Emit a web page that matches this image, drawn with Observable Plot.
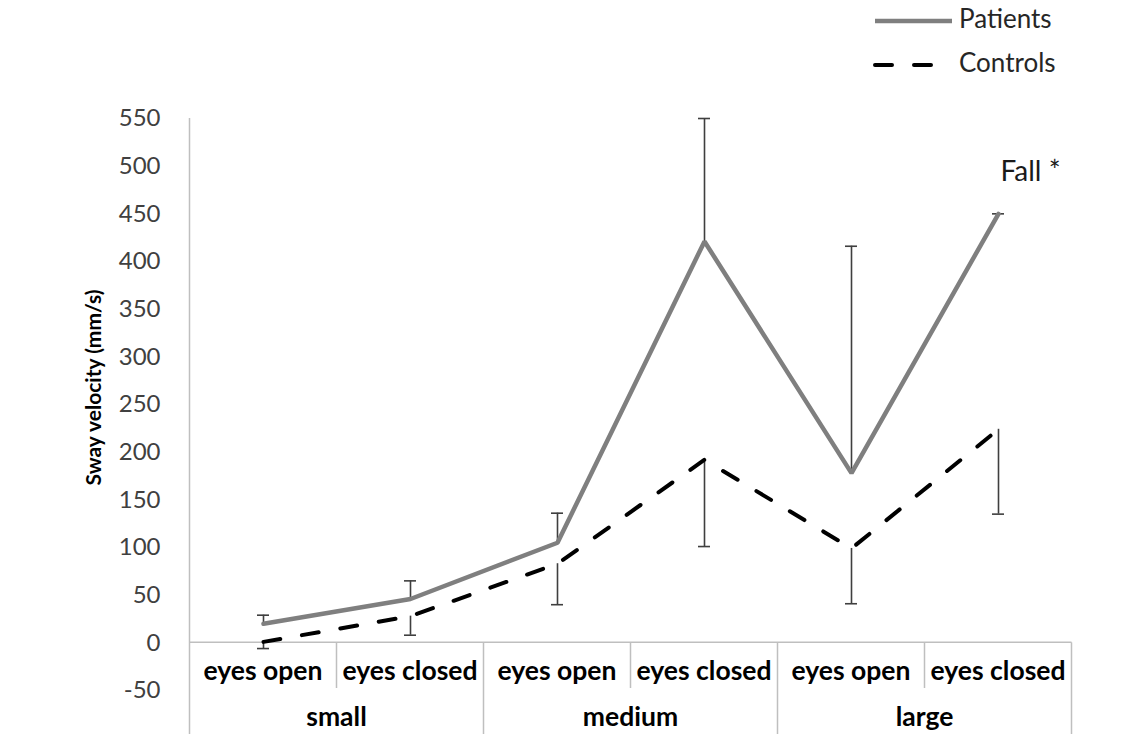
<!DOCTYPE html>
<html><head><meta charset="utf-8">
<script src="https://cdn.jsdelivr.net/npm/d3@7"></script>
<script src="https://cdn.jsdelivr.net/npm/@observablehq/plot@0.6"></script>
<style>
body{margin:0;background:#fff;}
#chart{position:relative;width:1144px;height:734px;font-family:Lato,"Open Sans",sans-serif;}
#chart svg{position:absolute;left:0;top:0;}
</style>
</head><body><div id="chart"></div>
<script>
const groups = ["small", "medium", "large"];
const conditions = ["eyes open", "eyes closed"];
const patients = [20, 46, 105, 421, 178, 450];
const patientsUpper = [29, 65, 136, 550, 416, 450];
const controls = [1, 28, 83, 192, 99, 224];
const controlsLower = [-6, 8, 40, 101, 41, 135];
const annotations = ["", "", "", "", "", "Fall *"];
const yTicks = [-50, 0, 50, 100, 150, 200, 250, 300, 350, 400, 450, 500, 550];
const seriesNames = ["Patients", "Controls"];
const yLabel = "Sway velocity (mm/s)";

const keys = groups.flatMap(g => conditions.map(c => `${g}|${c}`));
const rows = keys.map((k, i) => ({
  key: k, group: k.split("|")[0], cond: k.split("|")[1],
  p: patients[i], pu: patientsUpper[i], c: controls[i], cl: controlsLower[i], note: annotations[i]
}));

const W = 1144, H = 734;
const font = "Lato, 'Open Sans', sans-serif";
const patColor = "#7f7f7f", ctlColor = "#000000", errColor = "#3f3f3f", gridColor = "#bfbfbf";

const plot = Plot.plot({
  width: W, height: H,
  marginLeft: 187, marginRight: 71, marginTop: 118, marginBottom: 44,
  style: {fontFamily: font, background: "#fff", overflow: "visible"},
  x: {type: "point", domain: keys, padding: 0.5, axis: null},
  y: {domain: [-50, 550], axis: null},
  marks: [
    Plot.axisY({ticks: yTicks, tickSize: 0, tickPadding: 27, fontSize: 24, fill: "#404040", label: null, tickFormat: d => String(d)}),
    // patients error bars (upper)
    Plot.ruleX(rows, {x: "key", y1: "p", y2: "pu", stroke: errColor, strokeWidth: 1.6}),
    Plot.ruleY(rows, {x1: "key", x2: "key", y: "pu", insetLeft: -6, insetRight: -6, stroke: errColor, strokeWidth: 1.6}),
    // controls error bars (lower)
    Plot.ruleX(rows, {x: "key", y1: "c", y2: "cl", stroke: errColor, strokeWidth: 1.6}),
    Plot.ruleY(rows, {x1: "key", x2: "key", y: "cl", insetLeft: -6, insetRight: -6, stroke: errColor, strokeWidth: 1.6}),
    Plot.line(rows, {x: "key", y: "p", stroke: patColor, strokeWidth: 4.5, strokeLinejoin: "miter"}),
    Plot.line(rows, {x: "key", y: "c", stroke: ctlColor, strokeWidth: 4, strokeDasharray: "17,22", strokeLinecap: "round"}),
    Plot.text(rows.filter(d => d.note), {x: "key", y: "pu", text: "note", textAnchor: "start", dx: 2, dy: -42, fontSize: 28, fill: "#1a1a1a"}),
    Plot.text([yLabel], {frameAnchor: "left", text: d => d, textAnchor: "middle", rotate: -90, dx: -93, dy: -17, fontSize: 21, fontWeight: "bold", fill: "#000", letterSpacing: "-0.5px"})
  ]
});

const chart = document.getElementById("chart");
chart.appendChild(plot);

// category table drawn from the plot's own scales
const sx = plot.scale("x"), sy = plot.scale("y");
const svg = d3.select(plot);
const xs = keys.map(k => sx.apply(k));
const step = xs[1] - xs[0];
const left = xs[0] - step / 2, right = xs[xs.length - 1] + step / 2;
const y0 = sy.apply(0), yTop = sy.apply(550), yMid = sy.apply(-50);
const under = svg.insert("g", ":first-child").attr("stroke", gridColor).attr("stroke-width", 1.5).attr("fill", "none");
under.append("line").attr("x1", left).attr("x2", left).attr("y1", yTop).attr("y2", H);
under.append("line").attr("x1", left).attr("x2", right).attr("y1", y0).attr("y2", y0);
for (let i = 1; i <= keys.length; i++) {
  const x = left + i * step;
  under.append("line").attr("x1", x).attr("x2", x).attr("y1", y0).attr("y2", i % 2 === 0 ? H : yMid - 2);
}
const lab = svg.append("g").attr("font-family", font).attr("font-weight", "bold").attr("fill", "#000").attr("text-anchor", "middle");
rows.forEach((d, i) => {
  lab.append("text").attr("x", xs[i]).attr("y", y0 + 31).attr("dominant-baseline", "middle").attr("font-size", 26.5).text(d.cond);
});
groups.forEach((g, j) => {
  lab.append("text").attr("x", left + (2 * j + 1) * step).attr("y", y0 + 77).attr("dominant-baseline", "middle").attr("font-size", 26.5).text(g);
});

// legend
const leg = d3.select(chart).append("svg").attr("width", 300).attr("height", 90).style("left", "860px").style("top", "0px");
const items = [{name: seriesNames[0], stroke: patColor, dash: null, y: 21, w: 4.5}, {name: seriesNames[1], stroke: ctlColor, dash: "17,22", y: 65, w: 4}];
items.forEach(it => {
  leg.append("line").attr("x1", 15).attr("x2", 92).attr("y1", it.y).attr("y2", it.y)
    .attr("stroke", it.stroke).attr("stroke-width", it.w).attr("stroke-dasharray", it.dash).attr("stroke-linecap", it.dash ? "round" : "butt");
  leg.append("text").attr("x", 99).attr("y", it.y).attr("dominant-baseline", "middle")
    .attr("font-family", font).attr("font-size", 26).attr("fill", "#262626").text(it.name);
});
</script>
</body></html>
